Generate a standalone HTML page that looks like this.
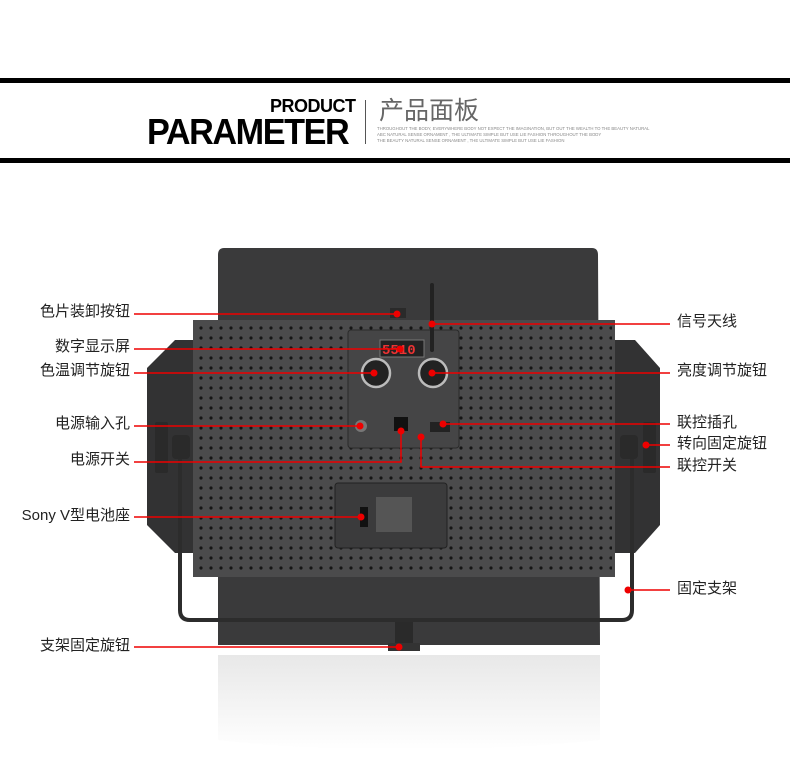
<!DOCTYPE html>
<html><head><meta charset="utf-8"><style>
body{margin:0;background:#fff;width:790px;height:761px;overflow:hidden;position:relative;font-family:"Liberation Sans","Noto Sans CJK SC",sans-serif}
.l{position:absolute;font-size:15px;color:#222;white-space:nowrap;line-height:16px}
.r{text-align:right;right:660px}
</style></head><body>
<div style="position:absolute;left:0;top:78px;width:790px;height:5px;background:#000"></div>
<div style="position:absolute;left:0;top:158px;width:790px;height:5px;background:#000"></div>
<div style="position:absolute;left:270px;top:96px;font:900 18px 'Liberation Sans',sans-serif;letter-spacing:-0.5px">PRODUCT</div>
<div style="position:absolute;left:147px;top:111px;font:900 36px 'Liberation Sans',sans-serif;letter-spacing:-1.5px;transform:scaleX(0.95);transform-origin:left">PARAMETER</div>
<div style="position:absolute;left:365px;top:100px;width:1px;height:44px;background:#555"></div>
<div style="position:absolute;left:379px;top:93px;font-size:25px;color:#666;font-family:'Noto Sans CJK SC',sans-serif;line-height:32px">产品面板</div>
<div style="position:absolute;left:377px;top:126px;font-size:4.3px;color:#888;line-height:6px;white-space:nowrap">THROUGHOUT THE BODY, EVERYWHERE BODY NOT EXPECT THE IMAGINATION, BUT OUT THE WEALTH TO THE BEAUTY NATURAL<br>ABC NATURAL SENSE ORNAMENT , THE ULTIMATE SIMPLE BUT USE LIE FASHION THROUGHOUT THE BODY<br>THE BEAUTY NATURAL SENSE ORNAMENT , THE ULTIMATE SIMPLE BUT USE LIE FASHION</div>

<svg width="790" height="761" style="position:absolute;left:0;top:0">
<defs>
<pattern id="d" width="10" height="10" patternUnits="userSpaceOnUse" x="196" y="323"><circle cx="5" cy="5" r="1.6" fill="#151515"/></pattern>
<linearGradient id="rf" x1="0" y1="0" x2="0" y2="1"><stop offset="0" stop-color="#e8e8e8"/><stop offset="1" stop-color="#fff"/></linearGradient>
</defs>
<path d="M218 655 H600 L600 740 Q400 760 218 740Z" fill="url(#rf)"/>
<path d="M224 248 H592 Q598 248 598 255 L600 645 H218 L218 255 Q218 248 224 248Z" fill="#3a3a3b"/>
<polygon points="200,340 175,340 147,368 147,525 175,553 200,553" fill="#323233"/>
<polygon points="610,340 635,340 660,368 660,525 635,553 610,553" fill="#323233"/>
<rect x="193" y="320" width="422" height="257" fill="#4b4b4c"/>
<rect x="196" y="323" width="416" height="251" fill="url(#d)"/>
<rect x="348" y="330" width="111" height="118" rx="3" fill="#454546" stroke="#2a2a2a"/>
<rect x="335" y="483" width="112" height="65" rx="3" fill="#3b3b3c" stroke="#222"/>
<rect x="376" y="497" width="36" height="35" fill="#555"/>
<rect x="360" y="507" width="8" height="20" fill="#111"/>
<rect x="380" y="340" width="44" height="17" fill="#222" stroke="#777"/>
<text x="382" y="354" font-size="14" font-family="Liberation Mono" fill="#e33" font-weight="bold">5510</text>
<circle cx="376" cy="373" r="14" fill="#222" stroke="#bbb" stroke-width="2.5"/>
<circle cx="433" cy="373" r="14" fill="#222" stroke="#bbb" stroke-width="2.5"/>
<circle cx="361" cy="426" r="6" fill="#777"/>
<rect x="394" y="417" width="14" height="14" fill="#111"/>
<rect x="430" y="422" width="20" height="10" fill="#222"/>
<line x1="432" y1="285" x2="432" y2="350" stroke="#222" stroke-width="4" stroke-linecap="round"/>
<rect x="390" y="308" width="16" height="10" fill="#2a2a2a"/>
<path d="M180 455 V610 Q180 620 190 620 H622 Q632 620 632 610 V455" fill="none" stroke="#2c2c2c" stroke-width="4"/>
<rect x="172" y="435" width="18" height="24" rx="4" fill="#2a2a2a"/>
<rect x="620" y="435" width="18" height="24" rx="4" fill="#2a2a2a"/>
<rect x="155" y="422" width="13" height="51" rx="2" fill="#2a2a2a"/>
<rect x="643" y="422" width="13" height="51" rx="2" fill="#2a2a2a"/>
<rect x="395" y="622" width="18" height="25" fill="#2a2a2a"/>
<rect x="388" y="643" width="32" height="8" fill="#333"/>
<g stroke="#e00" stroke-width="1.5" fill="none">
<path d="M134 314 H397"/><path d="M134 349 H400"/><path d="M134 373 H374"/><path d="M134 426 H360"/>
<path d="M134 462 H401 V431"/><path d="M134 517 H361"/><path d="M134 647 H399"/>
<path d="M432 324 H670"/><path d="M432 373 H670"/><path d="M443 424 H670"/><path d="M646 445 H670"/>
<path d="M421 437 V467 H670"/><path d="M628 590 H670"/>
</g>
<g fill="#e00">
<circle cx="397" cy="314" r="3.5"/><circle cx="400" cy="349" r="3.5"/><circle cx="374" cy="373" r="3.5"/><circle cx="360" cy="426" r="3.5"/>
<circle cx="401" cy="431" r="3.5"/><circle cx="361" cy="517" r="3.5"/><circle cx="399" cy="647" r="3.5"/>
<circle cx="432" cy="324" r="3.5"/><circle cx="432" cy="373" r="3.5"/><circle cx="443" cy="424" r="3.5"/><circle cx="646" cy="445" r="3.5"/>
<circle cx="421" cy="437" r="3.5"/><circle cx="628" cy="590" r="3.5"/>
</g>
</svg>
<div class="l r" style="top:304px">色片装卸按钮</div>
<div class="l r" style="top:339px">数字显示屏</div>
<div class="l r" style="top:363px">色温调节旋钮</div>
<div class="l r" style="top:416px">电源输入孔</div>
<div class="l r" style="top:452px">电源开关</div>
<div class="l r" style="top:508px">Sony V型电池座</div>
<div class="l r" style="top:638px">支架固定旋钮</div>
<div class="l" style="left:677px;top:314px">信号天线</div>
<div class="l" style="left:677px;top:363px">亮度调节旋钮</div>
<div class="l" style="left:677px;top:415px">联控插孔</div>
<div class="l" style="left:677px;top:436px">转向固定旋钮</div>
<div class="l" style="left:677px;top:458px">联控开关</div>
<div class="l" style="left:677px;top:581px">固定支架</div>
</body></html>
